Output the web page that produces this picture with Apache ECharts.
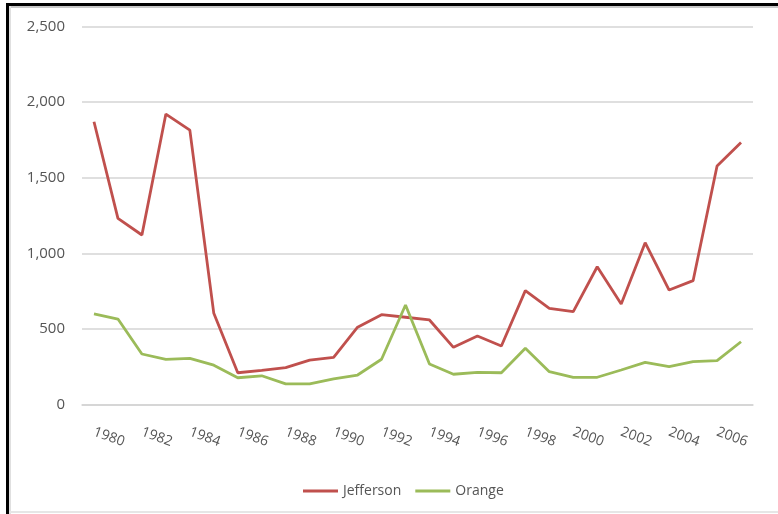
<!DOCTYPE html>
<html>
<head>
<meta charset="utf-8">
<script src="https://cdn.jsdelivr.net/npm/echarts@6/dist/echarts.min.js"></script>
<style>
html,body{margin:0;padding:0;background:#fff;}
#c{width:778px;height:514px;}
</style>
</head>
<body>
<div id="c"></div>
<script>
const years = ['1980','1981','1982','1983','1984','1985','1986','1987','1988','1989','1990','1991','1992','1993','1994','1995','1996','1997','1998','1999','2000','2001','2002','2003','2004','2005','2006','2007'];
const jefferson = [1870,1231,1121,1921,1815,603,210,226,244,294,312,511,594,577,559,378,453,387,753,636,614,911,665,1070,757,819,1577,1732];
const orange = [599,565,334,299,305,260,177,190,136,136,170,195,299,658,268,200,213,210,372,217,180,180,228,279,250,283,290,415];
const yTicks = [0,500,1000,1500,2000,2500];

const font = 'Open Sans, Liberation Sans, sans-serif';
const chart = echarts.init(document.getElementById('c'), null, {renderer:'canvas'});
chart.setOption({
  animation:false,
  backgroundColor:'#ffffff',
  grid:{left:82,right:25,top:26.5,bottom:109.5,containLabel:false},
  xAxis:{
    type:'category',
    data:years,
    boundaryGap:true,
    axisLine:{show:true,lineStyle:{color:'#d4d4d4',width:1.5}},
    axisTick:{show:false},
    axisLabel:{interval:1,rotate:-20,margin:27,color:'#555555',fontSize:14,fontFamily:font}
  },
  yAxis:{
    type:'value',
    min:yTicks[0],max:yTicks[yTicks.length-1],interval:500,
    axisLine:{show:false},axisTick:{show:false},
    splitLine:{lineStyle:{color:'#d4d4d4',width:1.5}},
    axisLabel:{margin:17,color:'#555555',fontSize:15,fontFamily:font,
      formatter:v=>v.toLocaleString('en-US')}
  },
  legend:{
    data:['Jefferson','Orange'],
    left:298,top:479,
    icon:'rect',itemWidth:35,itemHeight:3,itemGap:14,
    textStyle:{color:'#555555',fontSize:14,fontFamily:font}
  },
  series:[
    {name:'Jefferson',type:'line',data:jefferson,showSymbol:false,symbol:'none',
      lineStyle:{color:'#c0504d',width:2.8},itemStyle:{color:'#c0504d'}},
    {name:'Orange',type:'line',data:orange,showSymbol:false,symbol:'none',
      lineStyle:{color:'#9bbb59',width:2.8},itemStyle:{color:'#9bbb59'}}
  ],
  graphic:[
    {type:'rect',shape:{x:6,y:3,width:772,height:3},style:{fill:'#000'}},
    {type:'rect',shape:{x:6,y:3,width:3,height:511},style:{fill:'#000'}},
    {type:'rect',shape:{x:9,y:6,width:769,height:2},style:{fill:'#c8c8c8'}},
    {type:'rect',shape:{x:9,y:6,width:2,height:508},style:{fill:'#e0e0e0'}},
    {type:'rect',shape:{x:9,y:511,width:769,height:2},style:{fill:'#e6e6e6'}}
  ]
});
</script>
</body>
</html>
